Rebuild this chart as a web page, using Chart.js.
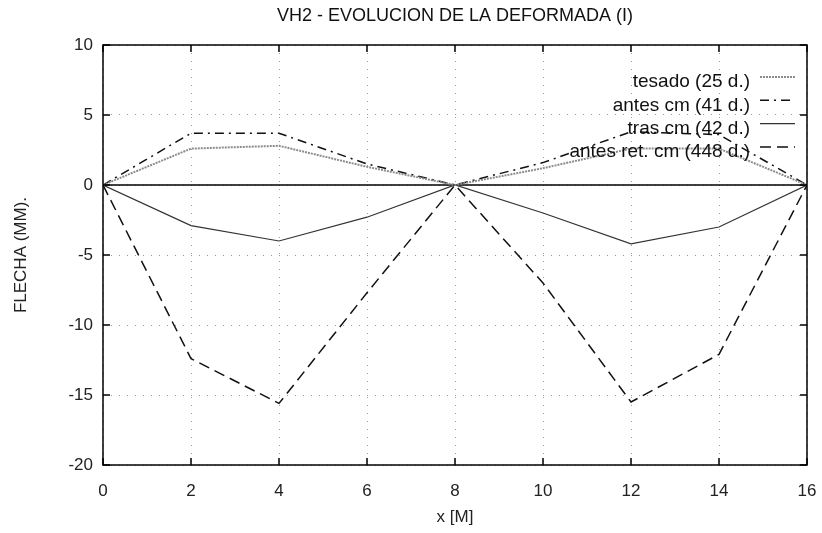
<!DOCTYPE html>
<html>
<head>
<meta charset="utf-8">
<script src="https://cdn.jsdelivr.net/npm/chart.js@4"></script>
<style>
html, body { margin: 0; padding: 0; background: #fff; }
#caja { width: 822px; height: 533px; }
</style>
</head>
<body>
<div id="caja"><canvas id="grafico"></canvas></div>
<script>
// datos
const posiciones = [0, 2, 4, 6, 8, 10, 12, 14, 16];
const tesado    = [0, 2.6, 2.8, 1.3, 0, 1.2, 2.6, 2.6, 0];
const antesCm   = [0, 3.7, 3.7, 1.5, 0, 1.6, 3.8, 3.6, 0];
const trasCm    = [0, -2.9, -4.0, -2.3, 0, -2.0, -4.2, -3.0, 0];
const antesRet  = [0, -12.4, -15.6, -7.7, 0, -7.0, -15.5, -12.1, 0];
const cero      = [0, 0, 0, 0, 0, 0, 0, 0, 0];
const etiquetas = ['tesado (25 d.)', 'antes cm (41 d.)', 'tras cm (42 d.)', 'antes ret. cm (448 d.)'];
const ticksX = [0, 2, 4, 6, 8, 10, 12, 14, 16];
const ticksY = [-20, -15, -10, -5, 0, 5, 10];

const fuente = '"Liberation Sans", Arial, sans-serif';

function puntos(valores){
    return posiciones.map((x, i) => ({x: x, y: valores[i]}));
}

// leyenda dentro del area, texto a la izquierda y muestra de linea a la derecha
const leyenda = {
    id: 'leyenda',
    afterDatasetsDraw(chart){
        const ctx = chart.ctx;
        const a = chart.chartArea;
        ctx.save();
        ctx.font = '19px ' + fuente;
        ctx.textAlign = 'right';
        ctx.textBaseline = 'middle';
        for(let i = 0; i < etiquetas.length; i++){
            const ds = chart.data.datasets[i];
            const y = a.top + 37 + i * 23.3;
            const xt = a.right - 57;
            ctx.fillStyle = '#111';
            ctx.fillText(etiquetas[i], xt, y);
            ctx.strokeStyle = ds.borderColor;
            ctx.lineWidth = ds.borderWidth;
            ctx.setLineDash(ds.borderDash || []);
            ctx.beginPath();
            ctx.moveTo(xt + 10, y - 5);
            ctx.lineTo(xt + 45, y - 5);
            ctx.stroke();
        }
        ctx.restore();
    }
};

// marco y marcas hacia dentro
const marco = {
    id: 'marco',
    afterDraw(chart){
        const ctx = chart.ctx;
        const a = chart.chartArea;
        const sx = chart.scales.x;
        const sy = chart.scales.y;
        ctx.save();
        ctx.strokeStyle = '#000';
        ctx.lineWidth = 1.5;
        ctx.setLineDash([]);
        ctx.strokeRect(a.left, a.top, a.right - a.left, a.bottom - a.top);
        ctx.beginPath();
        sx.ticks.forEach(t => {
            const px = sx.getPixelForValue(t.value);
            ctx.moveTo(px, a.bottom); ctx.lineTo(px, a.bottom - 7);
            ctx.moveTo(px, a.top); ctx.lineTo(px, a.top + 7);
        });
        sy.ticks.forEach(t => {
            const py = sy.getPixelForValue(t.value);
            ctx.moveTo(a.left, py); ctx.lineTo(a.left + 7, py);
            ctx.moveTo(a.right, py); ctx.lineTo(a.right - 7, py);
        });
        ctx.stroke();
        ctx.restore();
    }
};

function dibujar(){
    const ctx = document.getElementById('grafico').getContext('2d');
    new Chart(ctx, {
        type: 'line',
        data: {
            datasets: [
                {label: etiquetas[0], data: puntos(tesado), borderColor: '#8c8c8c', borderWidth: 2, borderDash: [2, 1]},
                {label: etiquetas[1], data: puntos(antesCm), borderColor: '#111', borderWidth: 1.5, borderDash: [9, 5, 2, 5]},
                {label: etiquetas[2], data: puntos(trasCm), borderColor: '#333', borderWidth: 1.2},
                {label: etiquetas[3], data: puntos(antesRet), borderColor: '#111', borderWidth: 1.5, borderDash: [11, 6]},
                {label: 'cero', data: puntos(cero), borderColor: '#000', borderWidth: 1.5}
            ]
        },
        options: {
            animation: false,
            responsive: true,
            maintainAspectRatio: false,
            layout: {padding: {left: 0, right: 15, top: 0, bottom: 0}},
            elements: {point: {radius: 0}, line: {tension: 0}},
            scales: {
                x: {
                    type: 'linear',
                    min: 0, max: 16,
                    afterBuildTicks: s => { s.ticks = ticksX.map(v => ({value: v})); },
                    afterFit: s => { s.height = 68; s.paddingRight = 0; s.paddingLeft = 0; },
                    grid: {color: '#9a9a9a', lineWidth: 1, drawTicks: false},
                    border: {display: false, dash: [1, 7]},
                    ticks: {color: '#222', padding: 16, font: {family: fuente, size: 17}},
                    title: {display: true, text: 'x [M]', color: '#222', font: {family: fuente, size: 17}, padding: {top: 0, bottom: 5}}
                },
                y: {
                    min: -20, max: 10,
                    afterBuildTicks: s => { s.ticks = ticksY.map(v => ({value: v})); },
                    afterFit: s => { s.width = 103; },
                    grid: {color: '#9a9a9a', lineWidth: 1, drawTicks: false},
                    border: {display: false, dash: [1, 7]},
                    ticks: {color: '#222', padding: 10, font: {family: fuente, size: 17}},
                    title: {display: true, text: 'FLECHA (MM).', color: '#222', font: {family: fuente, size: 17}, padding: {top: 11, bottom: 11}}
                }
            },
            plugins: {
                legend: {display: false},
                tooltip: {enabled: false},
                title: {
                    display: true,
                    fullSize: false,
                    text: 'VH2 - EVOLUCION DE LA DEFORMADA (I)',
                    color: '#111',
                    font: {family: fuente, size: 18, weight: 'normal'},
                    padding: {top: 5, bottom: 18.4}
                }
            }
        },
        plugins: [leyenda, marco]
    });
}

window.addEventListener('load', dibujar);
</script>
</body>
</html>
